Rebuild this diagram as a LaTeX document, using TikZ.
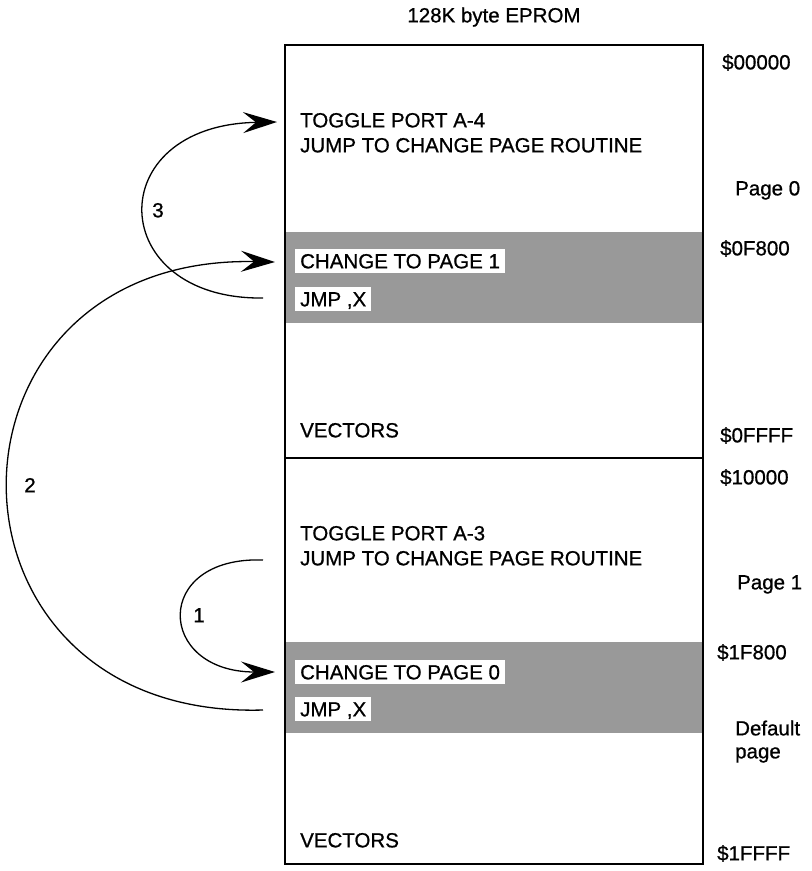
\documentclass[tikz,border=0pt]{standalone}
\usepackage{fontspec}
\setmainfont{Liberation Sans}[FakeBold=0.8]
\usetikzlibrary{arrows.meta}
\begin{document}
\begin{tikzpicture}[x=1pt,y=-1pt,
  txt/.style={font=\fontsize{20.5}{24}\selectfont, inner sep=0pt, text height=14.7pt, text depth=0pt, anchor=west},
  wbox/.style={txt, fill=white, inner ysep=4.5pt, inner xsep=5pt},
  band/.style={fill=black!40, draw=none},
  frame/.style={line width=1.4pt},
  jump/.style={line width=1.3pt, -{Stealth[length=34pt,width=21pt,inset=13pt]}},
  num/.style={txt, anchor=center},
]
\useasboundingbox (0,0) rectangle (812,871);
% shaded bands
\fill[band] (285,232) rectangle (703,323);
\fill[band] (285,642) rectangle (703,733);
% memory frame
\draw[frame] (285,45) rectangle (703,864);
\draw[frame] (285,458) -- (703,458);
% title
\node[num] (title) at (494,15) {128K byte EPROM};
% page 0 contents
\node[txt] (tog4) at (300,120) {TOGGLE PORT A-4};
\node[txt] (jmp4) at (300,145) {JUMP TO CHANGE PAGE ROUTINE};
\node[wbox] (chg1) at (295,261) {CHANGE TO PAGE 1\hspace{7pt}};
\node[wbox] (jx0) at (295,299) {JMP ,X\hspace{6pt}};
\node[txt] (vec0) at (300,430) {VECTORS};
% page 1 contents
\node[txt] (tog3) at (300,533) {TOGGLE PORT A-3};
\node[txt] (jmp3) at (300,558) {JUMP TO CHANGE PAGE ROUTINE};
\node[wbox] (chg0) at (295,672) {CHANGE TO PAGE 0\hspace{7pt}};
\node[wbox] (jx1) at (295,709) {JMP ,X\hspace{6pt}};
\node[txt] (vec1) at (300,840) {VECTORS};
% addresses
\node[txt] (a00000) at (722,62) {\$00000};
\node[txt] (pg0) at (735,188) {Page 0};
\node[txt] (a0F800) at (720,248) {\$0F800};
\node[txt] (a0FFFF) at (720,435) {\$0FFFF};
\node[txt] (a10000) at (720,477) {\$10000};
\node[txt] (pg1) at (737,582) {Page 1};
\node[txt] (a1F800) at (717,652) {\$1F800};
\node[txt] (dflt) at (735,728) {Default};
\node[txt] (dpage) at (735,751) {page};
\node[txt] (a1FFFF) at (717,853) {\$1FFFF};
% connector ends
\coordinate (s3) at (263,298);
\coordinate (e3) at (277,122);
\coordinate (s2) at (263,710);
\coordinate (e2) at (275,262);
\coordinate (s1) at (263,560);
\coordinate (e1) at (275,672);
% jumps
\draw[jump] (s3) .. controls (105,300) and (100,125) .. (e3);
\draw[jump] (s2) .. controls (-78,720) and (-78,255) .. (e2);
\draw[jump] (s1) .. controls (152,556) and (156,672) .. (e1);
\node[num] (n3) at (158,210) {3};
\node[num] (n2) at (30,485) {2};
\node[num] (n1) at (199,615) {1};
\end{tikzpicture}
\end{document}
